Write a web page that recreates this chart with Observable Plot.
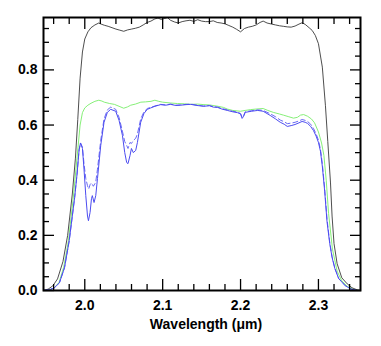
<!DOCTYPE html>
<html><head><meta charset="utf-8">
<script src="https://cdn.jsdelivr.net/npm/d3@7"></script>
<script src="https://cdn.jsdelivr.net/npm/@observablehq/plot@0.6"></script>
<style>body{margin:0;background:#fff} #chart svg{display:block}</style>
</head><body><div id="chart"></div>
<script>
// Axis settings
const xDomain = [1.947, 2.354];
const yDomain = [0, 0.99];
const xMajor = [2.0, 2.1, 2.2, 2.3];
const xMinor = [1.96, 1.98, 2.02, 2.04, 2.06, 2.08, 2.12, 2.14, 2.16, 2.18, 2.22, 2.24, 2.26, 2.28, 2.32, 2.34];
const yMajor = [0.0, 0.2, 0.4, 0.6, 0.8];
const yMinor = [0.05, 0.1, 0.15, 0.25, 0.3, 0.35, 0.45, 0.5, 0.55, 0.65, 0.7, 0.75, 0.85, 0.9, 0.95];
const xTitle = "Wavelength (μm)";

// Black (filter transmission)
const blackW = [1.947,1.953,1.959,1.965,1.972,1.978,1.984,1.988,1.991,1.994,1.997,2.000,2.004,2.008,2.013,2.018,2.021,2.025,2.030,2.035,2.040,2.045,2.050,2.055,2.060,2.065,2.070,2.075,2.080,2.085,2.090,2.094,2.098,2.102,2.106,2.110,2.115,2.120,2.125,2.130,2.135,2.140,2.145,2.150,2.155,2.160,2.165,2.170,2.175,2.180,2.185,2.190,2.195,2.200,2.205,2.210,2.215,2.220,2.225,2.229,2.234,2.240,2.245,2.250,2.255,2.260,2.265,2.270,2.275,2.279,2.283,2.288,2.292,2.296,2.300,2.305,2.309,2.312,2.3155,2.3175,2.320,2.324,2.330,2.337,2.343,2.350,2.354];
const blackV = [0.0,0.005,0.017,0.042,0.105,0.20,0.35,0.48,0.62,0.77,0.865,0.912,0.938,0.953,0.963,0.970,0.966,0.962,0.958,0.953,0.948,0.944,0.940,0.945,0.948,0.951,0.955,0.963,0.972,0.977,0.985,0.988,0.983,0.986,0.990,0.980,0.974,0.970,0.975,0.978,0.980,0.976,0.982,0.977,0.975,0.975,0.978,0.972,0.970,0.967,0.961,0.955,0.947,0.938,0.950,0.955,0.958,0.963,0.972,0.977,0.970,0.966,0.963,0.960,0.958,0.956,0.955,0.959,0.966,0.971,0.965,0.953,0.943,0.925,0.895,0.81,0.67,0.54,0.39,0.27,0.17,0.097,0.046,0.024,0.01,0.002,0.0];

// Green
const greenW = [1.947,1.955,1.961,1.967,1.973,1.979,1.985,1.990,1.994,1.997,2.000,2.004,2.008,2.013,2.018,2.022,2.025,2.032,2.038,2.044,2.050,2.055,2.059,2.065,2.072,2.078,2.085,2.090,2.095,2.100,2.110,2.119,2.128,2.136,2.145,2.153,2.160,2.171,2.178,2.183,2.190,2.200,2.206,2.213,2.220,2.229,2.235,2.242,2.250,2.255,2.262,2.268,2.273,2.277,2.281,2.286,2.291,2.295,2.300,2.304,2.307,2.310,2.313,2.318,2.324,2.330,2.337,2.345,2.352,2.354];
const greenV = [0.0,0.003,0.01,0.03,0.085,0.18,0.33,0.48,0.60,0.645,0.662,0.672,0.679,0.686,0.690,0.687,0.683,0.678,0.675,0.668,0.661,0.666,0.672,0.676,0.683,0.684,0.686,0.690,0.686,0.683,0.680,0.678,0.677,0.675,0.676,0.674,0.673,0.668,0.664,0.658,0.653,0.650,0.653,0.656,0.658,0.660,0.653,0.646,0.640,0.636,0.630,0.625,0.628,0.636,0.638,0.632,0.622,0.608,0.575,0.535,0.49,0.40,0.28,0.15,0.07,0.035,0.015,0.004,0.0,0.0];

// Blue solid
const solidW = [1.947,1.955,1.961,1.9675,1.974,1.980,1.987,1.990,1.9927,1.9945,1.997,1.999,2.0013,2.0035,2.0047,2.0068,2.0086,2.0097,2.0119,2.0141,2.0163,2.0205,2.0247,2.029,2.0333,2.0397,2.044,2.0483,2.0513,2.0538,2.0555,2.0581,2.0599,2.0623,2.0654,2.0676,2.0718,2.076,2.0803,2.0846,2.090,2.0974,2.104,2.110,2.117,2.123,2.130,2.136,2.144,2.1526,2.160,2.165,2.1705,2.176,2.183,2.190,2.196,2.200,2.202,2.204,2.206,2.214,2.222,2.229,2.238,2.245,2.251,2.256,2.260,2.265,2.270,2.275,2.279,2.283,2.286,2.290,2.2936,2.297,2.300,2.3026,2.305,2.308,2.311,2.3145,2.3175,2.321,2.326,2.3346,2.342,2.350,2.354];
const solidV = [0.0,0.003,0.01,0.028,0.083,0.18,0.337,0.42,0.51,0.535,0.515,0.44,0.344,0.27,0.253,0.283,0.333,0.344,0.319,0.344,0.406,0.526,0.61,0.646,0.657,0.65,0.617,0.563,0.5,0.464,0.46,0.49,0.515,0.5,0.508,0.537,0.61,0.642,0.657,0.662,0.668,0.674,0.672,0.675,0.671,0.672,0.674,0.675,0.671,0.668,0.67,0.665,0.664,0.658,0.653,0.648,0.645,0.64,0.624,0.632,0.646,0.65,0.653,0.65,0.635,0.622,0.61,0.603,0.595,0.598,0.602,0.608,0.613,0.61,0.606,0.595,0.58,0.56,0.537,0.505,0.45,0.36,0.25,0.17,0.12,0.08,0.043,0.017,0.005,0.0,0.0];

// Blue dashed
const dashW = [1.947,1.955,1.961,1.9675,1.974,1.980,1.987,1.990,1.9927,1.9945,1.997,1.999,2.0013,2.0035,2.005,2.007,2.0086,2.011,2.014,2.0163,2.0205,2.0247,2.029,2.0333,2.0397,2.044,2.0483,2.0513,2.0538,2.0555,2.0581,2.0599,2.0623,2.0654,2.0676,2.0718,2.076,2.0803,2.0846,2.090,2.0974,2.104,2.110,2.117,2.123,2.130,2.136,2.144,2.1526,2.160,2.165,2.1705,2.176,2.183,2.190,2.196,2.200,2.202,2.204,2.206,2.214,2.222,2.229,2.238,2.245,2.251,2.256,2.260,2.265,2.270,2.275,2.279,2.283,2.286,2.290,2.2936,2.297,2.300,2.3026,2.305,2.308,2.311,2.3145,2.3175,2.321,2.326,2.3346,2.342,2.350,2.354];
const dashV = [0.0,0.003,0.01,0.028,0.083,0.18,0.337,0.42,0.51,0.535,0.52,0.46,0.406,0.38,0.368,0.385,0.39,0.378,0.392,0.44,0.545,0.622,0.655,0.665,0.657,0.628,0.578,0.54,0.526,0.515,0.537,0.533,0.544,0.552,0.568,0.622,0.648,0.66,0.664,0.669,0.675,0.673,0.676,0.672,0.673,0.675,0.676,0.672,0.669,0.671,0.667,0.665,0.66,0.655,0.65,0.647,0.642,0.628,0.635,0.648,0.652,0.655,0.653,0.641,0.63,0.618,0.612,0.605,0.607,0.61,0.615,0.62,0.617,0.613,0.603,0.588,0.568,0.545,0.512,0.46,0.37,0.26,0.175,0.123,0.082,0.044,0.017,0.005,0.0,0.0];

const toRows = (ws, vs) => ws.map((w, i) => ({w, v: vs[i]}));
const black = toRows(blackW, blackV);
const green = toRows(greenW, greenV);
const solid = toRows(solidW, solidV);
const dash = toRows(dashW, dashV);

const fmt = d3.format(".1f");
const tickW = 1.3;

const plot = Plot.plot({
  width: 381, height: 346,
  marginLeft: 43, marginRight: 21, marginTop: 17, marginBottom: 56,
  style: {fontFamily: "'Liberation Sans', Arial, sans-serif", fontSize: "14px", fontWeight: "bold", background: "#fff", color: "#000"},
  x: {domain: xDomain},
  y: {domain: yDomain},
  marks: [
    Plot.line(green, {x: "w", y: "v", stroke: "#86f078", strokeWidth: 1}),
    Plot.line(black, {x: "w", y: "v", stroke: "#3a3a3a", strokeWidth: 0.9}),
    Plot.line(dash, {x: "w", y: "v", stroke: "#6a6af5", strokeWidth: 1, strokeDasharray: "5,3"}),
    Plot.line(solid, {x: "w", y: "v", stroke: "#4c4cf0", strokeWidth: 1}),
    Plot.axisX(xMinor, {anchor: "bottom", tickSize: -6, text: null, label: null, strokeWidth: tickW}),
    Plot.axisX(xMajor, {anchor: "bottom", tickSize: -11, text: null, label: null, strokeWidth: tickW}),
    Plot.axisX(xMinor, {anchor: "top", tickSize: -6, text: null, label: null, strokeWidth: tickW}),
    Plot.axisX(xMajor, {anchor: "top", tickSize: -11, text: null, label: null, strokeWidth: tickW}),
    Plot.axisY(yMinor, {anchor: "left", tickSize: -6, text: null, label: null, strokeWidth: tickW}),
    Plot.axisY(yMajor, {anchor: "left", tickSize: -11, text: null, label: null, strokeWidth: tickW}),
    Plot.axisY(yMinor, {anchor: "right", tickSize: -6, text: null, label: null, strokeWidth: tickW}),
    Plot.axisY(yMajor, {anchor: "right", tickSize: -11, text: null, label: null, strokeWidth: tickW}),
    Plot.axisX(xMajor, {anchor: "bottom", tickSize: 0, tickPadding: 10, tickFormat: fmt, label: null, fontSize: 14, fontWeight: "bold"}),
    Plot.axisY(yMajor, {anchor: "left", tickSize: 0, tickPadding: 6, tickFormat: fmt, label: null, fontSize: 14, fontWeight: "bold"}),
    Plot.frame({stroke: "#000", strokeWidth: 2}),
    Plot.text([xTitle], {frameAnchor: "bottom", lineAnchor: "top", dy: 29, dx: 4, fontSize: 14, fontWeight: "bold", fill: "#000"})
  ]
});
document.getElementById("chart").append(plot);
</script>
</body></html>
